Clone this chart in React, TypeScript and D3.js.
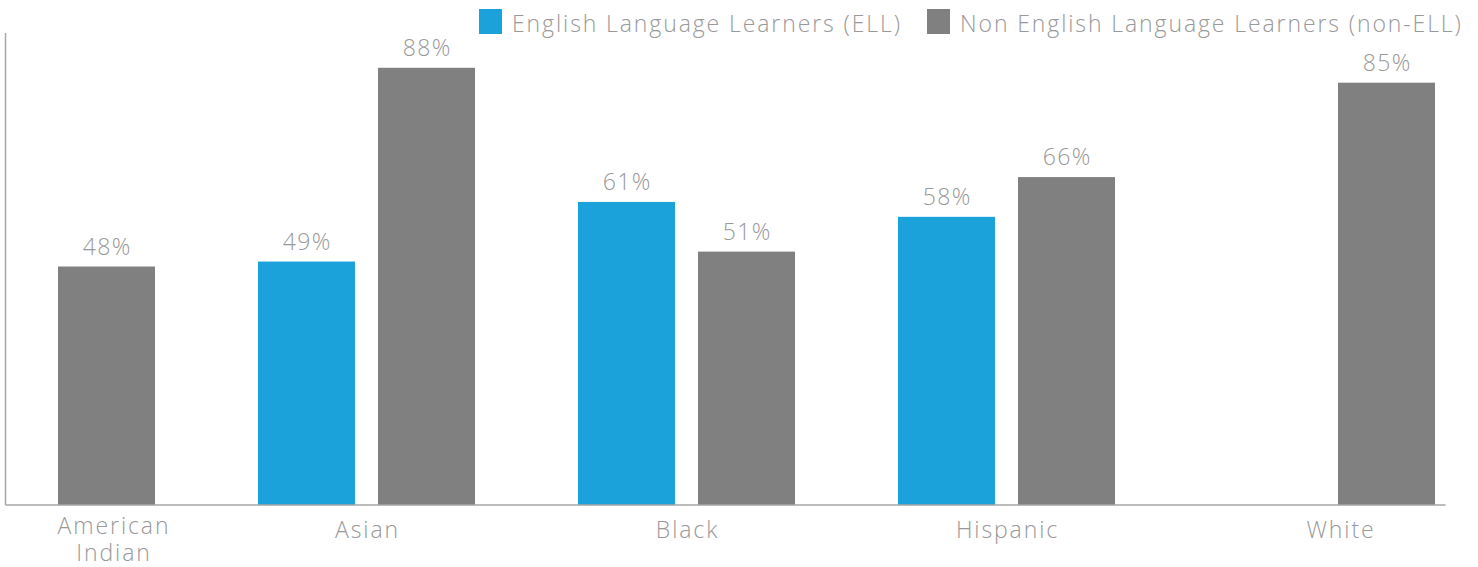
import * as d3 from 'd3';

const categories = ['American Indian', 'Asian', 'Black', 'Hispanic', 'White'];
const seriesNames = ['English Language Learners (ELL)', 'Non English Language Learners (non-ELL)'];
const ellValues: (number | null)[] = [null, 49, 61, 58, null];
const nonEllValues: (number | null)[] = [48, 88, 51, 66, 85];
const seriesColors = ['#1ca2db', '#808080'];

const WIDTH = 1478;
const HEIGHT = 567;
const FONT = '"Open Sans", Lato, sans-serif';
const TEXT_COLOR = '#999999';

export default function App() {
  const baseY = 505;
  const topY = 33;
  const axisLeft = 5.5;
  const axisRight = 1445.5;

  // groups are spaced wider than the plot, first/last are partly outside
  const step = 320;
  const firstCenter = 46.5;
  const x0 = d3
    .scaleBand<string>()
    .domain(categories)
    .range([firstCenter - step / 2, firstCenter - step / 2 + step * categories.length])
    .paddingInner(103 / step)
    .paddingOuter(103 / step / 2);

  const x1 = d3
    .scaleBand<number>()
    .domain([0, 1])
    .range([0, x0.bandwidth()])
    .paddingInner(23 / 120);

  const y = d3.scaleLinear().domain([0, 95]).range([baseY, topY]);

  const series = [ellValues, nonEllValues];

  // edge groups are clipped, so their labels sit inside the plot
  const edgeLabelX: Record<string, number> = { 'American Indian': 114, White: 1341 };
  const labelX = (c: string) => edgeLabelX[c] ?? (x0(c) ?? 0) + x0.bandwidth() / 2 + 1;

  return (
    <svg
      width={WIDTH}
      height={HEIGHT}
      style={{ position: 'absolute', left: 0, top: 0, display: 'block' }}
      fontFamily={FONT}
    >
      {/* bars */}
      {categories.map((c, ci) =>
        series.map((vals, si) => {
          const v = vals[ci];
          if (v == null) return null;
          const bx = (x0(c) ?? 0) + (x1(si) ?? 0);
          return (
            <g key={`${c}-${si}`}>
              <rect
                x={bx}
                y={y(v)}
                width={x1.bandwidth()}
                height={baseY - y(v)}
                fill={seriesColors[si]}
              />
              <text
                x={bx + x1.bandwidth() / 2 + 0.7}
                y={y(v) - 12}
                textAnchor="middle"
                fontSize={23}
                fontWeight={300}
                letterSpacing={1.4}
                fill={TEXT_COLOR}
              >
                {v}%
              </text>
            </g>
          );
        })
      )}

      {/* axes */}
      <line x1={axisLeft} x2={axisLeft} y1={topY} y2={baseY} stroke="#a6a6a6" strokeWidth={1.5} />
      <line x1={axisLeft} x2={axisRight} y1={baseY} y2={baseY} stroke="#a6a6a6" strokeWidth={1.5} />

      {/* category labels */}
      {categories.map((c) => {
        const words = c === 'American Indian' ? ['American', 'Indian'] : [c];
        return (
          <text
            key={c}
            x={labelX(c)}
            y={c === 'American Indian' ? 534 : 538}
            textAnchor="middle"
            fontSize={23}
            fontWeight={300}
            letterSpacing={1.9}
            fill={TEXT_COLOR}
          >
            {words.map((w, i) => (
              <tspan key={w} x={labelX(c)} dy={i === 0 ? 0 : 27}>
                {w}
              </tspan>
            ))}
          </text>
        );
      })}

      {/* legend */}
      {seriesNames.map((name, i) => {
        const lx = i === 0 ? 479 : 927;
        return (
          <g key={name} transform={`translate(${lx},9)`}>
            <rect width={23} height={25} fill={seriesColors[i]} />
            <text x={33} y={23} fontSize={23} fontWeight={300} letterSpacing={1.9} fill={TEXT_COLOR}>
              {name}
            </text>
          </g>
        );
      })}
    </svg>
  );
}
